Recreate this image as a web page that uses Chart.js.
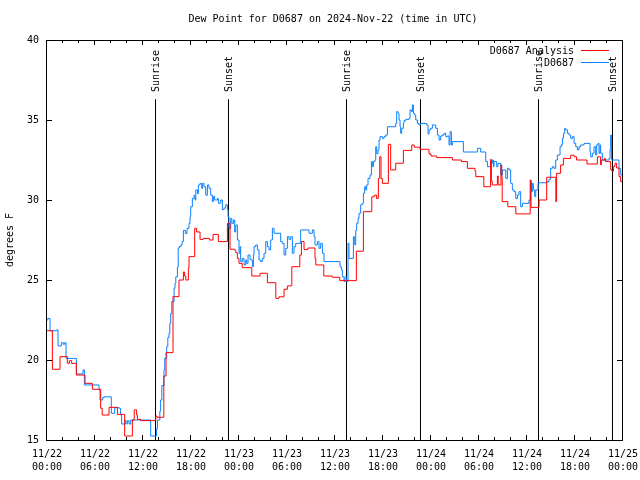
<!DOCTYPE html>
<html>
<head>
<meta charset="utf-8">
<script src="https://cdn.jsdelivr.net/npm/chart.js@4.4.1/dist/chart.umd.min.js"></script>
<style>
  html, body { margin: 0; padding: 0; background: #fff; }
</style>
</head>
<body>
<canvas id="dewChart" width="640" height="480"></canvas>
<script>
// hours since 2024-11-22 00:00 UTC, dew point in degrees F
const analysisHours = [0, 0.67, 1.63, 2.54, 2.8, 3.08, 3.67, 4.75, 5.67, 6.71,
  6.9, 7.75, 8.8, 9.71, 10.67, 10.9, 11.2, 11.3, 11.7, 13.6,
  13.75, 14.6, 14.88, 15.75, 16.5, 17.05, 17.2, 17.35, 17.67, 17.75,
  18.46, 18.7, 19.13, 19.55, 20.3, 20.75, 21.42, 22.55, 22.88, 23.5,
  23.6, 23.8, 24.0, 24.4, 25.6, 26.63, 27.55, 28.6, 29.0, 29.63,
  30.05, 30.6, 31.6, 31.8, 32.13, 32.6, 33.5, 33.6, 34.6, 35.67,
  36.6, 38.67, 39.55, 40.6, 40.9, 41.2, 41.42, 41.59, 41.75, 41.92,
  42.67, 42.96, 43.59, 44.55, 45.59, 45.9, 46.63, 47.75, 48.0, 48.71,
  50.67, 51.8, 52.55, 53.5, 53.6, 54.6, 55.45, 55.55, 55.65, 56.3,
  56.4, 56.75, 56.85, 56.9, 57.6, 58.6, 60.4, 60.5, 61.5, 62.46,
  63.6, 63.7, 64.2, 64.55, 65.46, 65.9, 66.2, 67.5, 68.8, 69.2,
  69.3, 69.7, 69.8, 70.46, 70.6, 70.8, 71.0, 71.2, 71.5, 71.7,
  72];
const analysisDewpoint = [21.83, 19.42, 20.21, 19.8, 19.96, 19.79, 19.06, 18.54, 18.17, 16.98,
  16.56, 17.04, 16.6, 15.25, 16.25, 16.88, 16.56, 16.29, 16.21, 16.5,
  16.42, 19.0, 20.46, 23.96, 25.0, 25.5, 25.25, 25.0, 25.73, 26.46,
  28.23, 28.0, 27.54, 27.6, 27.5, 27.85, 27.4, 28.54, 26.92, 26.85,
  26.7, 26.35, 26.04, 25.77, 25.25, 25.42, 24.83, 23.85, 23.95, 24.42,
  24.63, 25.83, 26.56, 27.4, 26.9, 27.0, 26.35, 25.94, 25.25, 25.17,
  24.96, 26.8, 29.27, 30.2, 30.3, 30.1, 31.35, 32.7, 31.35, 31.04,
  33.48, 31.88, 32.3, 33.1, 33.44, 33.3, 33.17, 32.88, 32.75, 32.65,
  32.5, 32.4, 31.98, 31.8, 31.46, 30.83, 32.54, 31.2, 30.94, 31.5,
  30.94, 32.19, 31.4, 29.9, 29.58, 29.13, 31.25, 29.54, 30.0, 31.42,
  29.9, 31.67, 32.19, 32.6, 32.8, 32.7, 32.5, 32.25, 32.7, 32.2,
  32.5, 32.6, 32.4, 31.9, 31.8, 32.1, 32.3, 32.0, 31.46, 31.15,
  31.15];

const stationHours = [0, 0.1, 0.38, 1.2, 1.38, 1.8, 2.04, 2.2, 2.38, 3.67,
  4.5, 4.67, 6.5, 6.63, 6.96, 7.13, 8.04, 8.46, 9.04, 9.2,
  9.33, 9.75, 9.88, 10.04, 10.25, 10.46, 12.96, 13.7, 13.8, 14.1,
  14.2, 14.35, 14.63, 14.72, 14.96, 15.1, 15.25, 15.35, 15.46, 15.6,
  15.88, 16.0, 16.1, 16.3, 16.4, 16.55, 16.75, 16.9, 17.05, 17.3,
  17.5, 17.75, 17.88, 17.96, 18.17, 18.38, 18.5, 18.6, 18.8, 18.92,
  19.13, 19.34, 19.46, 19.63, 19.84, 20.05, 20.25, 20.46, 20.67, 20.8,
  20.96, 21.3, 21.42, 21.71, 21.92, 22.13, 22.34, 22.55, 22.63, 22.75,
  22.96, 23.1, 23.3, 23.46, 23.59, 23.8, 24.0, 24.13, 24.21, 24.42,
  24.63, 24.84, 24.96, 25.13, 25.38, 25.55, 25.67, 25.8, 25.88, 26.09,
  26.3, 26.5, 26.71, 26.92, 27.13, 27.34, 27.55, 27.75, 27.96, 28.17,
  28.38, 29.21, 29.42, 29.63, 29.84, 30.05, 30.25, 30.46, 30.67, 30.88,
  31.09, 31.71, 32.75, 33.17, 33.38, 33.5, 33.8, 34.0, 34.21, 34.42,
  34.63, 36.63, 36.8, 36.92, 37.13, 37.25, 37.46, 37.63, 37.75, 38.3,
  38.46, 38.59, 38.71, 38.88, 39.0, 39.21, 39.42, 39.55, 39.71, 39.84,
  39.96, 40.13, 40.38, 40.55, 40.67, 40.8, 41.0, 41.09, 41.21, 41.38,
  41.5, 41.63, 41.92, 42.13, 42.34, 42.55, 43.59, 43.71, 43.88, 44.0,
  44.13, 44.21, 44.34, 44.55, 44.63, 44.84, 45.25, 45.38, 45.55, 45.67,
  45.8, 45.96, 46.09, 46.3, 46.5, 46.71, 47.46, 47.63, 47.75, 47.96,
  48.17, 48.59, 48.8, 49.0, 49.21, 49.42, 49.63, 49.84, 50.05, 50.25,
  50.38, 50.55, 50.67, 52.05, 53.8, 54.21, 54.84, 55.05, 55.46, 55.67,
  55.8, 55.88, 56.21, 56.38, 56.71, 56.92, 57.34, 57.55, 57.75, 57.96,
  58.17, 58.38, 58.59, 58.8, 59.0, 59.21, 59.42, 60.25, 60.46, 60.55,
  60.67, 60.8, 60.96, 61.09, 61.38, 62.55, 62.75, 62.96, 63.17, 63.38,
  63.59, 63.8, 64.13, 64.3, 64.42, 64.55, 64.71, 64.84, 65.05, 65.25,
  65.46, 65.67, 65.88, 66.09, 66.3, 66.5, 66.71, 67.13, 67.88, 67.96,
  68.17, 68.38, 68.59, 68.71, 68.88, 69.0, 69.13, 69.21, 69.42, 70.25,
  70.38, 70.46, 70.55, 71.5, 71.71, 72];
const stationDewpoint = [22.5, 22.6, 21.83, 21.88, 20.88, 21.08, 20.98, 21.08, 20.1, 19.13,
  19.38, 18.44, 18.13, 17.5, 17.65, 17.7, 16.67, 17.02, 16.98, 16.56,
  16.0, 16.21, 16.0, 16.21, 16.0, 16.25, 15.25, 15.7, 16.25, 16.8,
  17.5, 18.4, 19.38, 20.1, 20.83, 21.4, 21.67, 22.3, 22.9, 23.65,
  24.48, 24.8, 25.2, 25.8, 27.0, 27.1, 27.2, 27.4, 28.1, 27.9,
  28.23, 28.54, 28.96, 29.58, 30.1, 30.3, 30.0, 30.63, 30.4, 30.94,
  31.04, 30.73, 31.04, 30.83, 30.3, 30.94, 30.73, 30.3, 29.9, 30.23,
  30.0, 30.1, 29.8, 30.0, 29.4, 29.5, 29.7, 29.4, 28.96, 28.23,
  28.85, 28.54, 28.75, 28.0, 28.44, 27.5, 26.67, 27.08, 26.15, 26.35,
  25.94, 26.25, 26.04, 26.56, 26.29, 26.25, 25.83, 26.56, 27.08, 27.19,
  26.88, 26.25, 26.15, 26.35, 26.67, 27.4, 27.08, 26.88, 27.5, 28.23,
  27.92, 27.4, 27.29, 26.56, 26.98, 27.71, 27.54, 27.71, 26.67, 27.08,
  27.29, 28.13, 27.92, 28.13, 27.71, 27.19, 27.4, 26.98, 27.29, 26.67,
  26.15, 25.83, 25.63, 25.2, 24.9, 25.2, 24.9, 27.3, 26.35, 27.7,
  27.2, 28.1, 28.54, 28.85, 29.17, 29.7, 29.79, 30.42, 30.83, 30.63,
  30.94, 31.35, 31.56, 32.4, 32.08, 32.4, 32.5, 33.33, 32.9, 33.13,
  33.75, 33.96, 33.85, 33.96, 34.06, 34.58, 34.79, 35.52, 35.42, 35.0,
  34.58, 34.17, 34.48, 34.79, 34.96, 35.04, 35.1, 35.63, 35.52, 35.94,
  35.42, 35.31, 35.0, 34.79, 34.69, 34.79, 34.69, 34.13, 34.38, 34.48,
  34.69, 34.48, 34.06, 33.75, 34.0, 34.06, 34.17, 33.96, 34.0, 33.44,
  34.27, 33.44, 33.65, 33.0, 33.23, 33.0, 32.4, 32.08, 32.29, 32.5,
  32.08, 32.4, 32.08, 32.29, 31.56, 31.88, 31.35, 31.98, 31.88, 31.04,
  30.63, 30.52, 30.1, 30.31, 30.52, 29.58, 29.79, 30.0, 31.15, 30.52,
  31.04, 30.63, 30.21, 30.63, 31.08, 31.15, 31.3, 31.98, 32.08, 31.98,
  32.5, 32.81, 33.33, 33.44, 33.85, 34.17, 34.48, 34.38, 34.17, 34.06,
  33.85, 33.96, 33.54, 33.33, 33.13, 33.33, 33.44, 33.54, 33.02, 32.7,
  32.92, 33.33, 32.81, 33.44, 33.54, 32.92, 33.44, 32.92, 32.5, 32.6,
  33.13, 34.06, 32.5, 31.98, 31.56, 31.56];

const sunEventHours  = [13.6, 22.75, 37.55, 46.75, 61.55, 70.75];
const sunEventLabels = ['Sunrise', 'Sunset', 'Sunrise', 'Sunset', 'Sunrise', 'Sunset'];

const seriesNames  = ['D0687 Analysis', 'D0687'];
const seriesColors = ['#ff0000', '#0a80ff'];

const FONT = "'DejaVu Sans Mono', 'Liberation Mono', monospace";

function points(hours, values){
    return hours.map((h, i) => ({ x: h, y: values[i] }));
}

function tickLabel(value){
    let day = 22 + Math.floor(value / 24);
    let hr  = String(value % 24).padStart(2, '0');
    return ['11/' + day, hr + ':00'];
}

// gnuplot-like frame: inward ticks, sun markers, key and titles
const gnuplotFrame = {
    id: 'gnuplotFrame',
    beforeDatasetsDraw(chart){
        const { ctx, scales: { x, y } } = chart;
        ctx.save();
        ctx.strokeStyle = '#000';
        ctx.fillStyle   = '#000';
        ctx.lineWidth   = 1;
        ctx.font        = '10px ' + FONT;
        const yBase = y.getPixelForValue(15);
        const yTop  = y.getPixelForValue(36.3);
        const yText = y.getPixelForValue(36.75);
        sunEventHours.forEach((h, i) => {
            let px = Math.round(x.getPixelForValue(h)) - 0.5;
            ctx.beginPath();
            ctx.moveTo(px, yBase);
            ctx.lineTo(px, yTop);
            ctx.stroke();
            ctx.save();
            ctx.translate(px + 1, yText);
            ctx.rotate(-Math.PI / 2);
            ctx.textAlign    = 'left';
            ctx.textBaseline = 'middle';
            ctx.fillText(sunEventLabels[i], 0, 0);
            ctx.restore();
        });
        ctx.restore();
    },
    afterDatasetsDraw(chart){
        const { ctx, chartArea: a, scales: { x, y } } = chart;
        ctx.save();
        ctx.strokeStyle = '#000';
        ctx.fillStyle   = '#000';
        ctx.lineWidth   = 1;
        ctx.strokeRect(a.left - 0.5, a.top + 0.5, a.right - a.left, a.bottom - a.top);

        ctx.beginPath();
        for (let h = 0; h <= 72; h += 2){
            let px  = Math.round(x.getPixelForValue(h)) - 0.5;
            let len = (h % 6 === 0) ? 5 : 3;
            ctx.moveTo(px, a.bottom);
            ctx.lineTo(px, a.bottom - len);
            ctx.moveTo(px, a.top);
            ctx.lineTo(px, a.top + len);
        }
        for (let v = 15; v <= 40; v += 5){
            let py = Math.round(y.getPixelForValue(v)) + 0.5;
            ctx.moveTo(a.left, py);
            ctx.lineTo(a.left + 5, py);
            ctx.moveTo(a.right - 1, py);
            ctx.lineTo(a.right - 6, py);
        }
        ctx.stroke();

        // key
        ctx.font         = '10px ' + FONT;
        ctx.textAlign    = 'right';
        ctx.textBaseline = 'middle';
        seriesNames.forEach((name, i) => {
            let rowY = a.top + 10.5 + i * 12;
            ctx.fillStyle = '#000';
            ctx.fillText(name, a.right - 49, rowY + 0.5);
            ctx.strokeStyle = seriesColors[i];
            ctx.beginPath();
            ctx.moveTo(a.right - 42, rowY);
            ctx.lineTo(a.right - 14, rowY);
            ctx.stroke();
        });

        // titles
        ctx.fillStyle    = '#000';
        ctx.textAlign    = 'center';
        ctx.fillText('Dew Point for D0687 on 2024-Nov-22 (time in UTC)', (a.left + a.right) / 2 - 2, 19);
        ctx.save();
        ctx.translate(10, (a.top + a.bottom) / 2);
        ctx.rotate(-Math.PI / 2);
        ctx.fillText('degrees F', 0, 0);
        ctx.restore();
        ctx.restore();
    }
};

Chart.defaults.font.family = FONT;
Chart.defaults.font.size   = 10;
Chart.defaults.color       = '#000';

const dewChart = new Chart(document.getElementById('dewChart'), {
    type: 'line',
    data: {
        datasets: [{
            label: seriesNames[0],
            data: points(analysisHours, analysisDewpoint),
            borderColor: seriesColors[0],
            borderWidth: 1,
            stepped: 'before',
            pointRadius: 0
        }, {
            label: seriesNames[1],
            data: points(stationHours, stationDewpoint),
            borderColor: seriesColors[1],
            borderWidth: 1,
            stepped: 'before',
            pointRadius: 0
        }]
    },
    options: {
        responsive: false,
        animation: false,
        devicePixelRatio: 1,
        layout: { padding: { top: 40, right: 17, left: 0, bottom: 0 } },
        plugins: {
            legend: { display: false },
            title: { display: false },
            tooltip: { enabled: false }
        },
        scales: {
            x: {
                type: 'linear',
                min: 0,
                max: 72,
                grid: { display: false, drawTicks: false },
                border: { display: false },
                ticks: {
                    stepSize: 6,
                    autoSkip: false,
                    maxRotation: 0,
                    padding: 8,
                    font: { size: 10, lineHeight: 1.3 },
                    callback: tickLabel
                },
                afterFit(scale){
                    scale.height = 40;
                    scale.paddingLeft = 0;
                    scale.paddingRight = 0;
                }
            },
            y: {
                min: 15,
                max: 40,
                grid: { display: false, drawTicks: false },
                border: { display: false },
                ticks: { stepSize: 5, padding: 8 },
                afterFit(scale){
                    scale.width = 47;
                    scale.paddingTop = 0;
                    scale.paddingBottom = 0;
                }
            }
        }
    },
    plugins: [gnuplotFrame]
});
</script>
</body>
</html>
